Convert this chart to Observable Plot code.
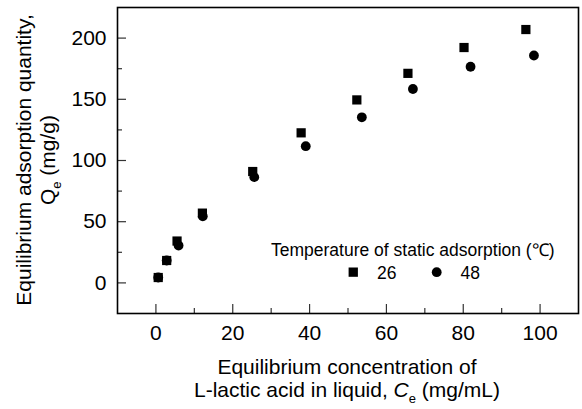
<!DOCTYPE html>
<html>
<head>
<meta charset="utf-8">
<script src="https://cdn.jsdelivr.net/npm/d3@7"></script>
<script src="https://cdn.jsdelivr.net/npm/@observablehq/plot@0.6"></script>
<style>
  html, body { margin: 0; padding: 0; background: #fff; }
  svg text { font-family: "Liberation Sans", Arial, sans-serif; }
</style>
</head>
<body>
<div id="chart"></div>
<script>
// ---- data ----
const xDomain = [-10, 110];
const yDomain = [-25, 225];
const xMajor = [0, 20, 40, 60, 80, 100];
const xMinor = [10, 30, 50, 70, 90];
const yMajor = [0, 50, 100, 150, 200];
const yMinor = [25, 75, 125, 175];

const series = ["26", "48"];
const ce26 = [0.6, 2.8, 5.5, 12.1, 25.2, 37.8, 52.3, 65.6, 80.2, 96.3];
const qe26 = [4.4, 18.3, 34.2, 57.0, 91.0, 122.6, 149.5, 171.2, 192.3, 207.0];
const ce48 = [0.6, 2.8, 5.9, 12.2, 25.6, 39.0, 53.6, 66.9, 81.9, 98.4];
const qe48 = [4.4, 18.3, 30.5, 54.4, 86.4, 111.7, 135.3, 158.4, 176.6, 185.8];

const legendTitle = "Temperature of static adsorption (℃)";
const xTitle1 = "Equilibrium concentration of";
const yTitle1 = "Equilibrium adsorption quantity,";

const d26 = ce26.map((c, i) => ({c, q: qe26[i], t: series[0]}));
const d48 = ce48.map((c, i) => ({c, q: qe48[i], t: series[1]}));

const W = 582, H = 409;
const mL = 117, mR = 4, mT = 7, mB = 96;
const pw = W - mL - mR, ph = H - mT - mB;

const svg = Plot.plot({
  width: W, height: H,
  marginLeft: mL, marginRight: mR, marginTop: mT, marginBottom: mB,
  style: {fontFamily: '"Liberation Sans", Arial, sans-serif', fontSize: "21px", color: "#000", background: "#fff"},
  x: {domain: xDomain, ticks: xMajor, tickSize: 0, tickPadding: 12, label: null},
  y: {domain: yDomain, ticks: yMajor, tickSize: 0, tickPadding: 11, label: null},
  marks: [
    Plot.tickX(xMajor, {x: d => d, insetTop: ph - 9, stroke: "#333", strokeWidth: 1.2}),
    Plot.tickX(xMinor, {x: d => d, insetTop: ph - 5, stroke: "#333", strokeWidth: 1.2}),
    Plot.tickY(yMajor, {y: d => d, insetRight: pw - 9, stroke: "#333", strokeWidth: 1.2}),
    Plot.tickY(yMinor, {y: d => d, insetRight: pw - 5, stroke: "#333", strokeWidth: 1.2}),
    Plot.frame({stroke: "#000", strokeWidth: 1.6}),
    Plot.dot(d26, {x: "c", y: "q", symbol: "square", r: 5.2, fill: "#000", stroke: "none"}),
    Plot.dot(d48, {x: "c", y: "q", symbol: "circle", r: 4.9, fill: "#000", stroke: "none"})
  ]
});

const s = d3.select(svg);
const ff = '"Liberation Sans", Arial, sans-serif';

// x title
s.append("text").attr("x", 347).attr("y", 374).attr("text-anchor", "middle")
  .attr("font-size", 21).attr("font-family", ff).text(xTitle1);
const xt2 = s.append("text").attr("x", 347).attr("y", 397).attr("text-anchor", "middle")
  .attr("font-size", 21).attr("font-family", ff);
xt2.append("tspan").text("L-lactic acid in liquid, ");
xt2.append("tspan").attr("font-style", "italic").text("C");
xt2.append("tspan").attr("font-size", 13).attr("dy", 6).text("e");
xt2.append("tspan").attr("dy", -6).text(" (mg/mL)");

// y title
s.append("text").attr("transform", "translate(31,160) rotate(-90)").attr("text-anchor", "middle")
  .attr("font-size", 21).attr("font-family", ff).text(yTitle1);
const yt2 = s.append("text").attr("transform", "translate(55,160) rotate(-90)").attr("text-anchor", "middle")
  .attr("font-size", 21).attr("font-family", ff);
yt2.append("tspan").text("Q");
yt2.append("tspan").attr("font-size", 13).attr("dy", 6).text("e");
yt2.append("tspan").attr("dy", -6).text(" (mg/g)");

// legend
const lg = s.append("g").attr("font-family", ff).attr("font-size", 17.5).attr("text-anchor", "start");
lg.append("text").attr("x", 271).attr("y", 256).attr("text-anchor", "start").text(legendTitle);
lg.append("rect").attr("x", 348.6).attr("y", 267.5).attr("width", 9.3).attr("height", 9.3).attr("fill", "#000");
lg.append("text").attr("x", 377).attr("y", 278.5).attr("text-anchor", "start").text(series[0]);
lg.append("circle").attr("cx", 436.7).attr("cy", 272.2).attr("r", 4.9).attr("fill", "#000");
lg.append("text").attr("x", 460.5).attr("y", 278.5).attr("text-anchor", "start").text(series[1]);

document.getElementById("chart").appendChild(svg);
</script>
</body>
</html>
